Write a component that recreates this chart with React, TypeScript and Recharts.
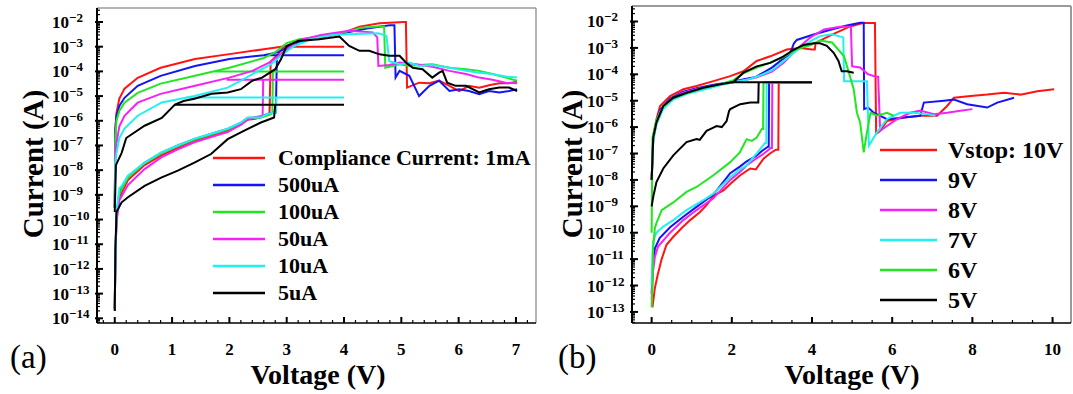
import { LineChart, Line, XAxis, YAxis, ReferenceLine } from 'recharts';

type Pt = [number, number];

const FONT = '"Liberation Serif", "Times New Roman", serif';

// ---------- panel (a): different compliance currents ----------
const labelsA = ['Compliance Current: 1mA', '500uA', '100uA', '50uA', '10uA', '5uA'];
const colorsA = ['#ff1414', '#1414f5', '#22e622', '#f522f5', '#22f0f0', '#000000'];

const a1mA_set: Pt[] = [[0, 2e-14], [0.01, 3e-12], [0.03, 1e-10], [0.08, 8e-10], [0.23, 4e-9], [0.52, 1.6e-8], [0.81, 4e-8], [1.1, 8e-8], [1.39, 1.6e-7], [1.68, 2.5e-7], [1.97, 4e-7], [2.2, 7e-7], [2.32, 1.1e-6], [2.45, 1.2e-6], [2.55, 1.4e-6], [2.7, 1.8e-6], [2.72, 2.5e-4], [2.85, 5e-4], [2.95, 1e-3], [4.0, 1e-3], [2.95, 1e-3]];
const a1mA_reset: Pt[] = [[0, 3e-10], [0.01, 5e-7], [0.03, 2.1e-6], [0.08, 8e-6], [0.17, 2e-5], [0.4, 5.5e-5], [0.8, 1.4e-4], [1.4, 3.2e-4], [2.0, 5e-4], [2.6, 7.9e-4], [3.0, 1.07e-3], [3.22, 1.7e-3], [3.6, 2.4e-3], [4.0, 3.8e-3], [4.27, 6.5e-3], [4.62, 8.9e-3], [5.05, 1e-2], [5.08, 1e-2], [5.1, 2.2e-5], [5.31, 3.5e-5], [5.49, 3.3e-5], [5.66, 4.2e-5], [5.84, 2.6e-5], [6.01, 1.6e-5], [6.18, 2.6e-5], [6.36, 2.2e-5], [6.53, 2.75e-5], [6.71, 3.3e-5], [6.88, 3.3e-5], [7.02, 3.8e-5]];

const a500_set: Pt[] = [[0, 2.5e-14], [0.01, 2e-12], [0.03, 1.5e-10], [0.08, 1.2e-9], [0.23, 5.5e-9], [0.52, 2e-8], [0.81, 5e-8], [1.1, 1e-7], [1.39, 1.8e-7], [1.68, 2.9e-7], [1.97, 4.7e-7], [2.2, 8e-7], [2.32, 1.3e-6], [2.55, 1.4e-6], [2.66, 1.9e-6], [2.81, 2.2e-6], [2.83, 4.5e-4], [4.0, 4.5e-4], [2.6, 4.5e-4]];
const a500_reset: Pt[] = [[0, 3e-10], [0.01, 4e-7], [0.03, 1.6e-6], [0.08, 4e-6], [0.17, 8.5e-6], [0.4, 2.6e-5], [0.8, 6.6e-5], [1.4, 1.66e-4], [2.0, 3.2e-4], [2.6, 4.5e-4], [2.85, 6e-4], [3.0, 9e-4], [3.22, 1.6e-3], [3.6, 2.4e-3], [4.0, 3.6e-3], [4.4, 5.5e-3], [4.8, 7.4e-3], [4.88, 7.4e-3], [4.9, 5.6e-5], [4.97, 1.05e-4], [5.14, 6.6e-5], [5.31, 1e-5], [5.49, 2.6e-5], [5.66, 4.2e-5], [5.84, 1.6e-5], [6.01, 1.9e-5], [6.18, 1.6e-5], [6.36, 1.2e-5], [6.53, 1.6e-5], [6.71, 1.4e-5], [6.88, 1.6e-5], [7.02, 1.9e-5]];

const a100_set: Pt[] = [[0, 2.5e-14], [0.01, 2e-12], [0.03, 1.5e-10], [0.08, 1.1e-9], [0.23, 5e-9], [0.52, 1.9e-8], [0.81, 4.8e-8], [1.1, 9.5e-8], [1.39, 1.75e-7], [1.68, 2.8e-7], [1.97, 4.5e-7], [2.2, 7.5e-7], [2.32, 1.25e-6], [2.55, 1.35e-6], [2.7, 1.8e-6], [2.75, 2e-6], [2.76, 1e-4], [4.0, 1e-4], [1.75, 1e-4]];
const a100_reset: Pt[] = [[0, 3e-10], [0.01, 2e-7], [0.03, 1e-6], [0.08, 2.5e-6], [0.17, 5.4e-6], [0.4, 1.35e-5], [0.8, 3.2e-5], [1.4, 6.6e-5], [2.0, 1.4e-4], [2.6, 3.5e-4], [2.8, 6e-4], [3.0, 1.4e-3], [3.22, 2e-3], [3.6, 2.6e-3], [4.0, 3.8e-3], [4.3, 5.8e-3], [4.6, 6.5e-3], [4.7, 6.5e-3], [4.72, 1.4e-4], [4.97, 1.95e-4], [5.14, 1.66e-4], [5.31, 1.8e-4], [5.54, 1.95e-4], [5.84, 1.4e-4], [6.13, 1.23e-4], [6.36, 1.05e-4], [6.59, 7.8e-5], [6.82, 5.6e-5], [7.02, 4.2e-5]];

const a50_set: Pt[] = [[0, 2.5e-14], [0.01, 2e-12], [0.03, 8e-11], [0.08, 6e-10], [0.23, 2.5e-9], [0.52, 1.1e-8], [0.81, 3.3e-8], [1.1, 7e-8], [1.39, 1.35e-7], [1.68, 2.2e-7], [1.97, 3.5e-7], [2.2, 7e-7], [2.32, 1.15e-6], [2.45, 1.4e-6], [2.58, 1.6e-6], [2.59, 4.6e-5], [4.0, 4.6e-5], [1.95, 4.6e-5]];
const a50_reset: Pt[] = [[0, 3e-10], [0.01, 5e-8], [0.03, 1.25e-7], [0.08, 6e-7], [0.17, 1.6e-6], [0.4, 5.4e-6], [0.8, 1.23e-5], [1.4, 2.6e-5], [2.0, 5.6e-5], [2.4, 1.05e-4], [2.7, 2.3e-4], [2.9, 5e-4], [3.2, 1.8e-3], [3.6, 3e-3], [4.09, 4.4e-3], [4.5, 3.8e-3], [4.58, 2.4e-3], [4.6, 1.66e-4], [4.79, 1.8e-4], [4.97, 2.3e-4], [5.26, 1.95e-4], [5.54, 1.55e-4], [5.84, 1.05e-4], [6.13, 7.8e-5], [6.36, 5.6e-5], [6.59, 4.6e-5], [6.82, 3.5e-5], [7.02, 3.3e-5]];

const a10_set: Pt[] = [[0, 2.5e-14], [0.01, 2e-12], [0.03, 2e-10], [0.08, 1.8e-9], [0.12, 2.3e-9], [0.23, 6e-9], [0.52, 2e-8], [0.81, 5.2e-8], [1.1, 1e-7], [1.39, 1.9e-7], [1.68, 3e-7], [1.97, 4.8e-7], [2.2, 8.5e-7], [2.32, 1.35e-6], [2.55, 1.35e-6], [2.66, 1.9e-6], [2.81, 2.2e-6], [2.82, 8.7e-6], [4.0, 8.7e-6], [1.25, 8.7e-6]];
const a10_reset: Pt[] = [[0, 3e-10], [0.01, 2e-8], [0.03, 5e-8], [0.08, 2e-7], [0.17, 4.8e-7], [0.4, 1.6e-6], [0.82, 5.5e-6], [1.39, 1e-5], [1.97, 2.2e-5], [2.2, 4.2e-5], [2.45, 8.9e-5], [2.73, 1.95e-4], [2.9, 4.3e-4], [3.13, 1.07e-3], [3.42, 2e-3], [3.8, 3e-3], [4.2, 3.3e-3], [4.6, 3.5e-3], [4.74, 2.8e-3], [4.79, 2.6e-4], [4.97, 1.95e-4], [5.14, 2.3e-4], [5.31, 1.66e-4], [5.54, 1.8e-4], [5.84, 1.4e-4], [6.13, 1.05e-4], [6.36, 8.9e-5], [6.59, 7.8e-5], [6.82, 6.2e-5], [7.02, 5.6e-5]];

const a5_set: Pt[] = [[0, 2e-14], [0.01, 5e-12], [0.03, 2e-10], [0.12, 5e-10], [0.23, 8e-10], [0.52, 2.3e-9], [0.81, 5e-9], [1.1, 9.5e-9], [1.39, 2e-8], [1.68, 4.5e-8], [1.97, 1.8e-7], [2.26, 4e-7], [2.55, 8.5e-7], [2.78, 1.35e-6], [2.8, 4.5e-6], [4.0, 4.5e-6], [1.05, 4.5e-6]];
const a5_reset: Pt[] = [[0, 2e-10], [0.02, 1.6e-8], [0.12, 5e-8], [0.2, 2e-7], [0.52, 6.3e-7], [0.82, 1.3e-6], [1.05, 4.5e-6], [1.2, 6.3e-6], [1.39, 7.8e-6], [1.69, 1.23e-5], [1.97, 1.4e-5], [2.2, 1.9e-5], [2.4, 4.2e-5], [2.57, 5.6e-5], [2.8, 1.23e-4], [2.9, 3.1e-4], [3.0, 1.07e-3], [3.2, 1.7e-3], [3.57, 2e-3], [3.92, 2.6e-3], [4.09, 1.07e-3], [4.27, 6.8e-4], [4.44, 6.8e-4], [4.62, 4.9e-4], [4.79, 4.3e-4], [4.97, 4.3e-4], [5.08, 2.3e-4], [5.2, 1.4e-4], [5.37, 1.23e-4], [5.54, 5.6e-5], [5.66, 8.9e-5], [5.72, 1.05e-4], [5.8, 3.5e-5], [5.95, 2.6e-5], [6.13, 2.6e-5], [6.36, 1.4e-5], [6.53, 1.9e-5], [6.71, 2.2e-5], [6.88, 2.2e-5], [7.02, 1.6e-5]];

// ---------- panel (b): different stop voltages ----------
const labelsB = ['Vstop: 10V', '9V', '8V', '7V', '6V', '5V'];
const colorsB = ['#ff1414', '#1414f5', '#f522f5', '#22f0f0', '#22e622', '#000000'];

const b10_set: Pt[] = [[0.02, 1.5e-13], [0.08, 8e-13], [0.15, 2.5e-12], [0.25, 1e-11], [0.37, 3.5e-11], [0.54, 7e-11], [0.75, 1.5e-10], [0.96, 3e-10], [1.2, 6e-10], [1.37, 1.1e-9], [1.54, 2.5e-9], [1.79, 4e-9], [2.0, 7.9e-9], [2.21, 1.5e-8], [2.46, 2.7e-8], [2.6, 2.5e-8], [2.79, 6.3e-8], [2.95, 1e-7], [3.1, 1.4e-7], [3.16, 1.4e-7], [3.17, 5e-5], [4.0, 5e-5]];
const b10_reset: Pt[] = [[0, 1e-8], [0.04, 4.8e-7], [0.12, 2e-6], [0.21, 6.3e-6], [0.46, 1.5e-5], [0.79, 2.7e-5], [1.12, 3.6e-5], [1.54, 5.5e-5], [1.96, 8.5e-5], [2.29, 1.3e-4], [2.62, 3.2e-4], [2.96, 4.8e-4], [3.37, 8.7e-4], [3.71, 1e-3], [4.0, 8.7e-4], [4.07, 8.7e-4], [4.09, 1.55e-3], [4.5, 3.2e-3], [4.95, 6.5e-3], [5.27, 8.7e-3], [5.57, 8.7e-3], [5.6, 5.5e-7], [5.7, 7.2e-7], [5.87, 1.7e-6], [6.29, 2.3e-6], [6.7, 2.7e-6], [7.12, 2.7e-6], [7.37, 6.3e-6], [7.54, 1.3e-5], [7.96, 1.5e-5], [8.37, 1.7e-5], [8.79, 2e-5], [9.2, 1.7e-5], [9.62, 2.3e-5], [10.04, 2.7e-5]];

const b9_set: Pt[] = [[0, 5e-13], [0.03, 5e-12], [0.08, 2.5e-11], [0.2, 6.3e-11], [0.46, 1.6e-10], [0.79, 4e-10], [1.12, 9.5e-10], [1.54, 2.8e-9], [1.75, 7e-9], [1.96, 1.8e-8], [2.2, 3.2e-8], [2.37, 5e-8], [2.6, 7.9e-8], [2.75, 1.25e-7], [2.9, 1.8e-7], [2.92, 1.8e-7], [2.93, 5e-5], [4.0, 5e-5]];
const b9_reset: Pt[] = [[0, 1e-8], [0.04, 4e-7], [0.12, 1.6e-6], [0.21, 4.5e-6], [0.46, 1.2e-5], [0.79, 2.2e-5], [1.12, 3e-5], [1.54, 4e-5], [1.96, 5e-5], [2.3, 6.5e-5], [2.6, 8e-5], [3.0, 1.8e-4], [3.29, 4e-4], [3.45, 6e-4], [3.55, 1.5e-3], [3.62, 2e-3], [4.04, 3.2e-3], [4.46, 4.9e-3], [4.87, 7e-3], [5.2, 9e-3], [5.29, 9e-3], [5.3, 4.8e-6], [5.4, 5.5e-6], [5.54, 3.5e-6], [5.87, 2e-6], [6.29, 2.3e-6], [6.7, 2.7e-6], [6.79, 8.5e-6], [7.29, 1e-5], [7.54, 1.1e-5], [7.87, 7.4e-6], [8.37, 5.5e-6], [8.62, 8.5e-6], [9.04, 1.3e-5]];

const b8_set: Pt[] = [[0, 3e-13], [0.03, 3e-12], [0.08, 1.2e-11], [0.16, 3e-11], [0.46, 1e-10], [0.79, 3e-10], [1.12, 7.2e-10], [1.54, 2e-9], [1.75, 4.5e-9], [1.96, 1e-8], [2.2, 2e-8], [2.37, 3.5e-8], [2.6, 6.3e-8], [2.8, 1e-7], [2.97, 1.6e-7], [3.0, 1.6e-7], [3.01, 5e-5], [4.0, 5e-5]];
const b8_reset: Pt[] = [[0, 1e-8], [0.04, 3.5e-7], [0.12, 1.4e-6], [0.21, 4e-6], [0.46, 1.1e-5], [0.79, 2e-5], [1.12, 2.8e-5], [1.54, 3.8e-5], [1.96, 4.8e-5], [2.3, 6e-5], [2.6, 7.5e-5], [3.0, 1.26e-4], [3.3, 2.8e-4], [3.62, 9e-4], [3.96, 2.5e-3], [4.3, 5e-3], [4.7, 6.3e-3], [4.97, 6.3e-3], [5.0, 2e-4], [5.2, 1.8e-4], [5.4, 1e-4], [5.6, 8e-5], [5.65, 8e-5], [5.7, 7.2e-7], [5.87, 1.1e-6], [6.12, 2e-6], [6.45, 3.5e-6], [6.7, 4.2e-6], [7.04, 3.1e-6], [7.37, 3.5e-6], [7.7, 4.2e-6], [8.0, 4.8e-6]];

const b7_set: Pt[] = [[0, 1e-12], [0.02, 1e-11], [0.04, 5e-11], [0.12, 1e-10], [0.29, 1.7e-10], [0.54, 3e-10], [0.87, 7.2e-10], [1.29, 1.7e-9], [1.54, 3e-9], [1.96, 1.25e-8], [2.2, 2.5e-8], [2.37, 3.5e-8], [2.5, 6.3e-8], [2.62, 1e-7], [2.75, 1.8e-7], [2.83, 2.5e-7], [2.86, 2.5e-7], [2.87, 5e-5], [4.0, 5e-5]];
const b7_reset: Pt[] = [[0, 1e-8], [0.04, 3e-7], [0.12, 1.25e-6], [0.29, 5e-6], [0.54, 1.1e-5], [0.87, 1.8e-5], [1.29, 2.6e-5], [1.71, 3.8e-5], [2.04, 5e-5], [2.4, 6.3e-5], [2.7, 9e-5], [3.0, 1.4e-4], [3.3, 3.2e-4], [3.62, 8e-4], [3.96, 1.8e-3], [4.2, 2.8e-3], [4.5, 3.3e-3], [4.78, 2.5e-3], [4.8, 5.5e-5], [5.37, 5.5e-5], [5.42, 2e-7], [5.62, 6.3e-7], [5.87, 2e-6], [6.2, 3.5e-6], [6.54, 3.5e-6], [6.87, 3.1e-6], [7.08, 2.7e-6]];

const b6_set: Pt[] = [[0, 1.5e-13], [0.02, 1e-12], [0.03, 2e-11], [0.08, 1.5e-10], [0.12, 2.3e-10], [0.25, 7.2e-10], [0.54, 1.4e-9], [0.87, 3.5e-9], [1.12, 5.4e-9], [1.54, 1.5e-8], [1.96, 4.7e-8], [2.2, 1.1e-7], [2.3, 2.2e-7], [2.37, 3.5e-7], [2.5, 3e-7], [2.62, 4e-7], [2.75, 8.5e-7], [2.78, 8.5e-7], [2.79, 5e-5], [4.0, 5e-5]];
const b6_reset: Pt[] = [[0, 1e-10], [0.02, 4e-7], [0.12, 1.8e-6], [0.29, 6.3e-6], [0.54, 1.26e-5], [0.87, 1.9e-5], [1.29, 3e-5], [1.71, 4.2e-5], [2.04, 6e-5], [2.29, 1.1e-4], [2.62, 1.8e-4], [2.96, 2.8e-4], [3.29, 4.5e-4], [3.62, 9e-4], [3.96, 1.26e-3], [4.2, 1.9e-3], [4.5, 1.6e-3], [4.8, 4.8e-4], [5.04, 2.7e-5], [5.12, 3.5e-6], [5.2, 1.5e-6], [5.29, 1.1e-7], [5.37, 6.3e-7], [5.46, 3.5e-6], [5.62, 2.7e-6], [5.87, 3.5e-6], [6.04, 2.7e-6]];

const b5_set: Pt[] = [[0, 1e-9], [0.04, 2.3e-9], [0.12, 8.3e-9], [0.29, 2.7e-8], [0.54, 8.5e-8], [0.87, 2.7e-7], [1.12, 3.5e-7], [1.2, 3.3e-7], [1.37, 7.2e-7], [1.5, 9e-7], [1.62, 1.1e-6], [1.75, 1e-6], [1.87, 1.7e-6], [1.93, 4e-6], [1.96, 4.8e-6], [2.21, 7.4e-6], [2.46, 8.5e-6], [2.66, 8.5e-6], [2.67, 5e-5], [4.0, 5e-5], [2.0, 5e-5]];
const b5_reset: Pt[] = [[0, 1e-8], [0.04, 4e-7], [0.12, 1.5e-6], [0.29, 6.3e-6], [0.54, 1.3e-5], [0.87, 2e-5], [1.29, 3.1e-5], [1.71, 4.2e-5], [2.04, 5.1e-5], [2.29, 1.15e-4], [2.62, 2e-4], [2.96, 2.7e-4], [3.29, 4.8e-4], [3.54, 8.5e-4], [3.79, 1.3e-3], [4.04, 1.5e-3], [4.2, 1.5e-3], [4.37, 1.2e-3], [4.54, 6.5e-4], [4.66, 3.2e-4], [4.74, 1.3e-4], [4.87, 1.3e-4], [5.04, 1.15e-4]];

const segmentsA: Pt[][][] = [
  [a1mA_set, a1mA_reset],
  [a500_set, a500_reset],
  [a100_set, a100_reset],
  [a50_set, a50_reset],
  [a10_set, a10_reset],
  [a5_set, a5_reset],
];
const segmentsB: Pt[][][] = [
  [b10_set, b10_reset],
  [b9_set, b9_reset],
  [b8_set, b8_reset],
  [b7_set, b7_reset],
  [b6_set, b6_reset],
  [b5_set, b5_reset],
];

// tick values
const xTicksA = Array.from({ length: 38 }, (_, k) => Math.round((k - 1) * 2) / 10);
const xTicksB = Array.from({ length: 21 }, (_, k) => k / 2);
const logTicks = (lo: number, hi: number) => {
  const out: number[] = [];
  for (let e = -16; e <= 0; e++) {
    for (let m = 1; m <= 9; m++) {
      const v = m * Math.pow(10, e);
      if (v >= lo && v <= hi) out.push(v);
    }
  }
  return out;
};

const yDomainA: [number, number] = [Math.pow(10, -14.19), Math.pow(10, -1.433)];
const yDomainB: [number, number] = [Math.pow(10, -13.42), Math.pow(10, -1.413)];

// x is the axis line here (tickSize and tickMargin are 0)
const YTick = (props: any) => {
  const { x, y, payload } = props;
  const e = Math.log10(payload.value);
  const major = Math.abs(e - Math.round(e)) < 1e-6;
  return (
    <g>
      <line x1={major ? x - 2 : x} x2={x + (major ? 6 : 3)} y1={y} y2={y} stroke="#000" strokeWidth={major ? 2 : 1.2} />
      {major && (
        <text x={x - 45} y={y + 6} fontFamily={FONT} fontWeight="bold" fontSize={17} fill="#000">
          10
          <tspan dy={-6} fontSize={13}>{'\u2212' + Math.abs(Math.round(e))}</tspan>
        </text>
      )}
    </g>
  );
};

const XTick = (props: any) => {
  const { x, y, payload, step } = props;
  const v = payload.value;
  const major = Math.abs(v / step - Math.round(v / step)) < 1e-6;
  return (
    <g>
      <line x1={x} x2={x} y1={y} y2={y - (major ? 6 : 3)} stroke="#000" strokeWidth={major ? 2 : 1.2} />
      {major && (
        <text x={x} y={y + 32} textAnchor="middle" fontFamily={FONT} fontWeight="bold" fontSize={17} fill="#000">
          {Math.round(v)}
        </text>
      )}
    </g>
  );
};

interface PanelProps {
  left: number;
  width: number;
  top: number;
  right: number;
  yAxisWidth: number;
  xDomain: [number, number];
  yDomain: [number, number];
  xTicks: number[];
  xStep: number;
  colors: string[];
  segments: Pt[][][];
  frameWidth: number;
}

function Panel(p: PanelProps) {
  return (
    <div style={{ position: 'absolute', left: p.left, top: 0 }}>
      <LineChart width={p.width} height={394} margin={{ top: p.top, right: p.right, bottom: 0, left: 0 }}>
        <XAxis
          type="number"
          dataKey="v"
          domain={p.xDomain}
          allowDataOverflow
          ticks={p.xTicks}
          interval={0}
          tickSize={0}
          tickMargin={0}
          height={71}
          tickLine={false}
          axisLine={{ stroke: '#000', strokeWidth: 1.5 }}
          tick={(t: any) => <XTick {...t} step={p.xStep} />}
        />
        <YAxis
          type="number"
          scale="log"
          domain={p.yDomain}
          allowDataOverflow
          ticks={logTicks(p.yDomain[0], p.yDomain[1])}
          interval={0}
          tickSize={0}
          tickMargin={0}
          width={p.yAxisWidth}
          tickLine={false}
          axisLine={{ stroke: '#000', strokeWidth: 2 }}
          tick={(t: any) => <YTick {...t} />}
        />
        <ReferenceLine y={p.yDomain[1]} stroke="#9a9a9a" strokeWidth={p.frameWidth} />
        <ReferenceLine x={p.xDomain[1]} stroke="#9a9a9a" strokeWidth={p.frameWidth} />
        {p.segments.flatMap((segs, i) =>
          segs.map((seg, k) => (
            <Line
              key={`${i}-${k}`}
              data={seg.map(([v, c]) => ({ v, i: c }))}
              dataKey="i"
              type="linear"
              stroke={p.colors[i]}
              strokeWidth={2}
              dot={false}
              activeDot={false}
              legendType="none"
              isAnimationActive={false}
            />
          ))
        )}
      </LineChart>
    </div>
  );
}

export default function App() {
  return (
    <div style={{ position: 'absolute', left: 0, top: 0, width: 1073, height: 394, background: '#fff', overflow: 'hidden' }}>
      <Panel
        left={0}
        width={545}
        top={8}
        right={9}
        yAxisWidth={97}
        xDomain={[-0.31, 7.35]}
        yDomain={yDomainA}
        xTicks={xTicksA}
        xStep={1}
        colors={colorsA}
        segments={segmentsA}
        frameWidth={1.5}
      />
      <Panel
        left={540}
        width={533}
        top={6}
        right={2}
        yAxisWidth={92}
        xDomain={[-0.49, 10.46]}
        yDomain={yDomainB}
        xTicks={xTicksB}
        xStep={2}
        colors={colorsB}
        segments={segmentsB}
        frameWidth={2}
      />
      <svg width={1073} height={394} style={{ position: 'absolute', left: 0, top: 0, pointerEvents: 'none' }} fontFamily={FONT}>
        {labelsA.map((t, i) => {
          const y = 158 + 27 * i;
          return (
            <g key={t}>
              <line x1={213} x2={265} y1={y} y2={y} stroke={colorsA[i]} strokeWidth={2.5} />
              <text x={278} y={y + 7} fontSize={22} fontWeight="bold" fill="#000">{t}</text>
            </g>
          );
        })}
        {labelsB.map((t, i) => {
          const y = 150 + 30 * i;
          return (
            <g key={t}>
              <line x1={880} x2={937} y1={y} y2={y} stroke={colorsB[i]} strokeWidth={2.5} />
              <text x={948} y={y + 8} fontSize={24} fontWeight="bold" fill="#000">{t}</text>
            </g>
          );
        })}
        <text x={318} y={384} textAnchor="middle" fontSize={28} fontWeight="bold">Voltage (V)</text>
        <text x={852} y={384} textAnchor="middle" fontSize={28} fontWeight="bold">Voltage (V)</text>
        <text transform="translate(43,164) rotate(-90)" textAnchor="middle" fontSize={29} fontWeight="bold">Current (A)</text>
        <text transform="translate(582,164) rotate(-90)" textAnchor="middle" fontSize={29} fontWeight="bold">Current (A)</text>
        <text x={10} y={368} fontSize={33}>(a)</text>
        <text x={558} y={368} fontSize={33}>(b)</text>
      </svg>
    </div>
  );
}
